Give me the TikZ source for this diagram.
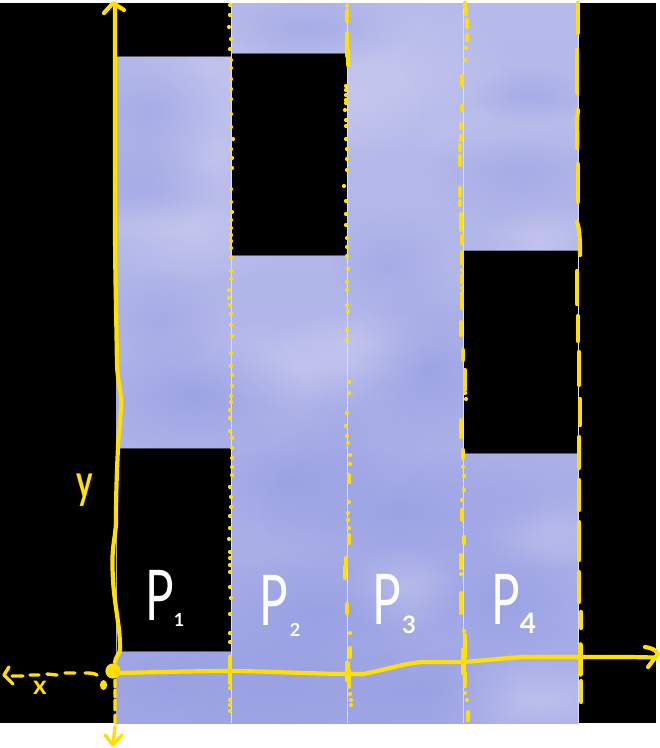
\documentclass[tikz,border=0pt]{standalone}
\usepackage{graphicx}
\usepackage{fontspec}
\setmainfont{Lato}
\usetikzlibrary{fadings}
\definecolor{axisy}{HTML}{FFE000}
\definecolor{dk}{HTML}{979FE3}
\definecolor{md}{HTML}{A2A8E6}
\definecolor{lt}{HTML}{C6C8EE}
\definecolor{lt2}{HTML}{B6BAEA}
\definecolor{seam}{HTML}{DCDEF7}
\tikzfading[name=softblob, inner color=transparent!25, outer color=transparent!100]
\newcommand{\cloud}[5]{\fill[#1, path fading=softblob] (#2,#3) ellipse ({#4*2} and {#5*2});}
\newcommand{\markdots}[1]{\foreach \px/\py in {#1} {\fill[axisy] (\px,\py) circle (2.1);}}
\newcommand{\markdash}[2][4.2]{\foreach \px/\pa/\pb in {#2} {\draw[axisy, line width=#1, line cap=round] (\px,\pa) -- (\px,\pb);}}
\newcommand{\handP}{\scalebox{0.68}[1]{P}}
\tikzset{
  axisline/.style={axisy, line width=4.2, line cap=round, line join=round},
  axisthin/.style={axisy, line width=3.4, line cap=round, line join=round},
  plabel/.style={white, font=\fontsize{70}{70}\selectfont, inner sep=0pt},
  psub/.style={white, inner sep=0pt},
  axlabel/.style={axisy, inner sep=0pt},
  gapedge/.style={draw=#1, line width=0.9}
}
\begin{document}
\begin{tikzpicture}[x=1pt,y=-1pt]
\useasboundingbox (0,0) rectangle (660,748);
\fill[white] (0,0) rectangle (660,748);
\fill[black] (0,3) rectangle (656,723);
% painted field
\begin{scope}
\clip (116,3) rectangle (578.5,723);
\shade[top color=lt2, bottom color=md, middle color=lt2!70!md] (116,3) rectangle (579,723);
\cloud{lt}{205}{70}{55}{35}
\cloud{lt}{390}{75}{65}{40}
\cloud{lt}{350}{100}{40}{35}
\cloud{lt}{215}{145}{35}{40}
\cloud{lt}{195}{235}{50}{25}
\cloud{lt}{510}{135}{55}{18}
\cloud{lt}{300}{365}{65}{25}
\cloud{lt}{370}{345}{50}{18}
\cloud{lt}{540}{240}{30}{20}
\cloud{lt}{400}{590}{30}{22}
\cloud{lt}{550}{530}{35}{20}
\cloud{lt}{540}{700}{60}{25}
\cloud{lt}{150}{220}{50}{12}
\cloud{md}{140}{185}{38}{25}
\cloud{md}{150}{110}{40}{35}
\cloud{md}{310}{28}{50}{20}
\cloud{md}{520}{170}{45}{30}
\cloud{md}{530}{95}{30}{15}
\cloud{md}{390}{265}{30}{25}
\cloud{md}{160}{320}{30}{25}
\cloud{dk}{195}{395}{55}{30}
\cloud{dk}{430}{370}{40}{45}
\cloud{md}{350}{430}{35}{30}
\cloud{dk}{290}{480}{45}{30}
\cloud{dk}{400}{510}{70}{35}
\cloud{md}{510}{500}{55}{30}
\cloud{dk}{170}{680}{60}{30}
\cloud{dk}{290}{680}{60}{40}
\cloud{dk}{320}{610}{70}{30}
\cloud{dk}{420}{690}{50}{25}
\cloud{dk}{500}{600}{40}{30}
\end{scope}
% empty bands
\fill[black] (116,3) rectangle (231.5,56);
\fill[black] (116,448) rectangle (231.5,651);
\fill[black] (232,53) rectangle (347.5,255);
\fill[black] (464,250) rectangle (578.5,453);
\draw[gapedge=black!50!lt2] (116,56) -- (231,56);
\draw[gapedge=black!60!lt2] (116,448) -- (231,448);
\draw[gapedge=black!50!lt2] (116,651) -- (231,651);
\draw[gapedge=black!50!lt2] (232,53) -- (347,53);
\draw[gapedge=black!50!lt2] (232,255.5) -- (347,255.5);
\draw[gapedge=black!30!lt2] (464,250.5) -- (578,250.5);
\draw[gapedge=black!50!lt2] (464,453.5) -- (578,453.5);
% seams between strips
\foreach \sx in {231.5,347.5,463.5,578.5} {\draw[seam, line width=0.8] (\sx,3) -- (\sx,723);}
\draw[seam!80!black, line width=0.6] (116,448) -- (116,651);
% first boundary: sparse dots
\markdots{230/5,230/15,229/27,231/39,230/49,231/60,231/68,231/79,231/89,231/99,231/114,231/127,233/139,231/149,232/158,232/168,231/189,231/202,232/212,231/220,231/228,231/235,231/241,231/248,231/257,231/271,231/279,229/290,229/298,230/305,231/314,231/325,232/336,231/353,231/366,232/375,232/386,231/396,231/402,230/410,230/418,230/431,232/438,232/448,232/458,232/467,232/475,230/487,231/497,231/507,230/516,230/528,229/539,230/552,230/558,230/565,230/572,230/587,231/598,230/614,230/633,230/642,230/688,230/700,230/705,230/711}
\draw[axisy, line width=4.6, line cap=round] (230,657) -- (230,683);
% second boundary
\markdots{347/6,347/16,346/86,346/90,346/95,346/100,346/103,345/110,346/120,346/126,346/139,347/149,347/159,347/170,344/186,346/201,346/214,346/225,347/238,347/247,347/256,348/269,347/282,347/290,347/305,348/312,347/330,347/340,349/382,349/393,347/413,346/426,347/436,348/443,350/455,350/464,349/476,349/482,349/502,348/513,348/520,349/528,349/538,350/633,350/694,351/700,351/705}
\markdash{347/11/21,347/33/45,347/46/56,348/50/65,349/475/482,349/535/543,346/558/568,345/567/578,347/604/613,350/648/657}
\draw[axisy, line width=5, line cap=round] (347,663) -- (347,680);
\draw[axisy, line width=3.6, line cap=round] (349,670) -- (349,687);
% third boundary
\markdash{465/3/8,466/8/14,467/20/27,467/35/40,462/76/80,462/82/85,462/106/110,461/124/128,461/136/140,460/145/150,460/156/165,460/188/196,460/201/205,461/214/230,462/236/243,462/252/263,462/275/280,462/293/308,461/322/335,463/350/360,465/370/390,461/420/437,463/450/458,462/510/520,464/537/543,461/555/568,461/593/613,465/635/657,465/673/686,468/712/720}
\markdots{466/48,465/60,462/106,462/270,462/288,462/282,465/393,466/399,463/467,464/476,464/490,462/500,461/574,464/631,465/693,467/700}
\draw[axisy, line width=5, line cap=round] (463,650) -- (463,673);
% fourth boundary
\markdash{578/3/33,577/50/93,578/164/202,577/271/304,578/316/341,579/352/385,580/399/425,579/437/468,579/480/510,579/522/560,579/572/602,581/612/628,581/681/702}
\draw[axisy, line width=4.2, line cap=round] (578,110) .. controls (576,125) and (578,135) .. (577,148);
\draw[axisy, line width=4.2, line cap=round] (577,222) .. controls (580,230) and (580,245) .. (580,255);
\draw[axisy, line width=5.6, line cap=round] (580.5,645) -- (580.5,674);
% y axis
\coordinate (origin) at (113,671);
\coordinate (ytip) at (113,3);
\coordinate (xtip) at (658,654);
\coordinate (xneg) at (4,675);
\coordinate (yneg) at (113,745);
\draw[axisline] (115,4) -- (115,220) .. controls (115,270) and (116,300) .. (117,365)
  .. controls (118,385) and (122,395) .. (121,407)
  .. controls (120,425) and (118,440) .. (118,447)
  .. controls (117,470) and (116,490) .. (116,523)
  .. controls (115,540) and (112,545) .. (112.5,567)
  .. controls (113,590) and (115,600) .. (118,622)
  .. controls (120,635) and (120,645) .. (120,650)
  .. controls (119,655) and (116,656) .. (115,662);
\draw[axisline] (104,13) -- (ytip) -- (124,10);
% x axis
\draw[axisline] (origin) -- (120,673) .. controls (160,672) and (200,671) .. (230,671)
  .. controls (260,671) and (290,673) .. (345,674) -- (363,674)
  .. controls (385,670) and (405,663) .. (423,662) -- (463,662)
  .. controls (490,660) and (505,658) .. (523,657) -- (630,657) -- (656,657.5);
\draw[axisline] (645,647) .. controls (652,648) and (656,650) .. (xtip) -- (648,667);
% negative halves
\draw[axisthin] (97,675) .. controls (94,673) and (90,673) .. (85,673);
\draw[axisthin] (75,673) -- (65,673) (57,675) -- (47,674) (39,675) -- (30,675) (23,676) -- (12,676);
\draw[axisthin] (9,667) -- (xneg) -- (13,684);
\draw[axisthin] (115,680) -- (115,687) (115,690) -- (115,697) (115,700) -- (115,710) (115,715) -- (115,723) (115,727) -- (113,743);
\draw[axisthin] (105,735) -- (yneg) -- (122,735);
\fill[axisy] (origin) circle (7.6);
\fill[axisy] (103.5,685) ellipse (3.6 and 5);
% labels
\node[plabel] (p1) at (160,595) {\handP};
\node[psub, font=\fontsize{18}{18}\selectfont\bfseries] (s1) at (179,620) {1};
\node[plabel] (p2) at (274,600) {\handP};
\node[psub, font=\fontsize{18}{18}\selectfont\bfseries] (s2) at (295,630) {2};
\node[plabel] (p3) at (387,599) {\handP};
\node[psub, font=\fontsize{24}{24}\selectfont\bfseries] (s3) at (409,625) {3};
\node[plabel] (p4) at (506,599) {\handP};
\node[psub, font=\fontsize{28}{28}\selectfont\bfseries] (s4) at (528,623) {4};
\node[axlabel, font=\bfseries\fontsize{26}{26}\selectfont] (xl) at (40,688) {x};
\node[axlabel, font=\bfseries\fontsize{48}{48}\selectfont] (yl) at (85,490) {\scalebox{0.65}[1]{y}};
\end{tikzpicture}
\end{document}
